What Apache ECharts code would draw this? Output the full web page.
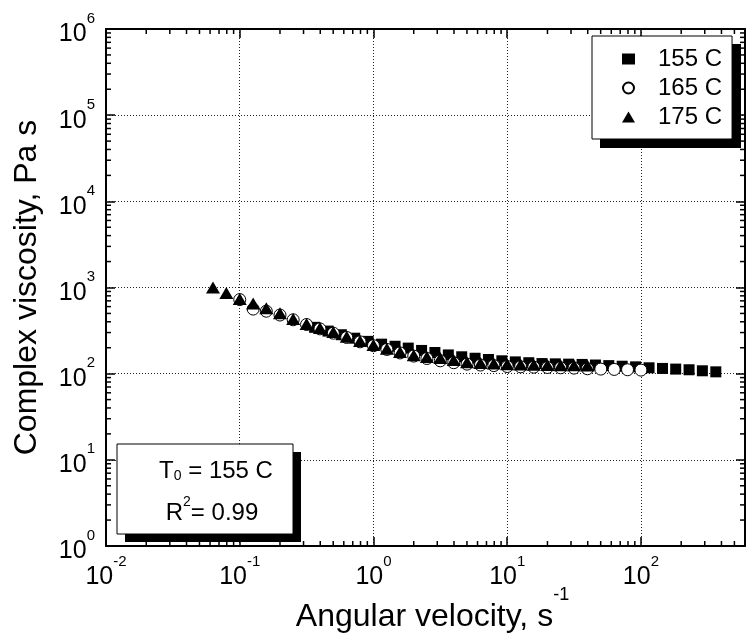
<!DOCTYPE html>
<html><head><meta charset="utf-8">
<script src="https://cdn.jsdelivr.net/npm/echarts@6/dist/echarts.min.js"></script>
<style>html,body{margin:0;padding:0;background:#fff}#c{width:752px;height:634px}</style>
</head><body><div id="c"></div>
<script>
// ---- data ----
const seriesNames = ['155 C', '165 C', '175 C'];
const w155 = [0.363,0.457,0.575,0.724,0.912,1.15,1.45,1.82,2.29,2.88,3.63,4.57,5.75,7.24,9.12,11.5,14.5,18.2,22.9,28.8,36.3,45.7,57.5,72.4,91.2,115,145,182,229,288,363];
const eta155 = [345,312,283,258,237,220,208,198,186,176,165,157,151,146,141,137,134,131,130,129,128,126,124,122,120,117,115,113,111,108,105];
const w165 = [0.1,0.126,0.158,0.2,0.251,0.316,0.398,0.501,0.631,0.794,1,1.26,1.58,2,2.51,3.16,3.98,5.01,6.31,7.94,10,12.6,15.8,20,25.1,31.6,39.8,50.1,63.1,79.4,100];
const eta165 = [724,562,531,479,422,372,331,295,263,234,211,191,174,160,150,141,134,129,126,124,121,120,119,118,117,116,114,113,112,111,110];
const w175 = [0.0631,0.0794,0.1,0.126,0.158,0.2,0.251,0.316,0.398,0.501,0.631,0.794,1,1.26,1.58,2,2.51,3.16,3.98,5.01,6.31,7.94,10,12.6,15.8,20,25.1,31.6,39.8];
const eta175 = [1000,861,733,653,575,501,431,376,339,305,269,240,215,195,178,164,156,152,144,136,133,131,129,128,127,126,125,125,124];
const xMin = 0.01, xMax = 600, yMin = 1, yMax = 1e6;
const xDecades = [-2,-1,0,1,2];
const yDecades = [0,1,2,3,4,5,6];
const xTitle = 'Angular velocity, s';
const xTitleSup = '-1';
const yTitle = 'Complex viscosity, Pa s';
const noteT0 = '155 C';
const noteR2 = '0.99';

// minor tick positions (2..9 within each decade)
const xMinor = [], yMinor = [];
xDecades.forEach(e => { for (let m = 2; m <= 9; m++) { const v = m * Math.pow(10, e); if (v < xMax) xMinor.push(v); } });
yDecades.slice(0, -1).forEach(e => { for (let m = 2; m <= 9; m++) yMinor.push(m * Math.pow(10, e)); });

const FONT = "'Liberation Sans', Arial, Helvetica, sans-serif";
const zip = (a, b) => a.map((v, i) => [v, b[i]]);

function powLabel(v) {
  const l = Math.log10(v), e = Math.round(l);
  if (Math.abs(l - e) > 1e-6) return '';
  return '{b|10}{s|' + e + '}';
}
const labelRich = {
  b: { fontSize: 25, fontFamily: FONT, color: '#000', lineHeight: 36, verticalAlign: 'bottom' },
  s: { fontSize: 15, fontFamily: FONT, color: '#000', lineHeight: 13, verticalAlign: 'top' }
};

function minorTicks(kind, values) {
  return {
    type: 'custom', silent: true, clip: false, z: 6, xAxisIndex: 0, yAxisIndex: 0,
    data: values.map(v => kind === 'x' ? [v, yMin] : [xMin, v]),
    renderItem(params, api) {
      const st = { stroke: '#000', lineWidth: 1.5 };
      if (kind === 'x') {
        const v = api.value(0);
        const b = api.coord([v, yMin]), t = api.coord([v, yMax]);
        return { type: 'group', children: [
          { type: 'line', shape: { x1: b[0], y1: b[1], x2: b[0], y2: b[1] - 5 }, style: st },
          { type: 'line', shape: { x1: t[0], y1: t[1], x2: t[0], y2: t[1] + 5 }, style: st }
        ]};
      } else {
        const v = api.value(1);
        const l = api.coord([xMin, v]), r = api.coord([xMax, v]);
        return { type: 'group', children: [
          { type: 'line', shape: { x1: l[0], y1: l[1], x2: l[0] + 5, y2: l[1] }, style: st },
          { type: 'line', shape: { x1: r[0], y1: r[1], x2: r[0] - 5, y2: r[1] }, style: st }
        ]};
      }
    }
  };
}

const axisLineStyle = { color: '#000', width: 2 };
const majorTick = { show: true, inside: true, length: 9, lineStyle: { color: '#000', width: 1.5 } };
const gridLine = { show: true, lineStyle: { color: '#222', width: 1, type: [1, 2] } };

const chart = echarts.init(document.getElementById('c'), null, { renderer: 'canvas' });
chart.setOption({
  animation: false,
  backgroundColor: '#fff',
  grid: { left: 106, right: 7, top: 29, bottom: 88, containLabel: false, outerBoundsMode: 'none' },
  xAxis: [
    { type: 'log', logBase: 10, min: xMin, max: xMax, interval: 1, position: 'bottom',
      axisLine: { show: true, lineStyle: axisLineStyle }, axisTick: majorTick,
      splitLine: gridLine, minorTick: { show: false },
      axisLabel: { margin: 8, formatter: powLabel, rich: labelRich },
      name: '{a|' + xTitle + '}{s|' + xTitleSup + '}', nameLocation: 'middle', nameGap: 40,
      nameMoveOverlap: false,
      nameTextStyle: { padding: [0, 0, 0, 14], rich: {
        a: { fontSize: 32, fontFamily: FONT, color: '#000' },
        s: { fontSize: 18, fontFamily: FONT, color: '#000', padding: [0, 0, 44, 0] } } } },
    { type: 'log', logBase: 10, min: xMin, max: xMax, interval: 1, position: 'top',
      axisLine: { show: true, lineStyle: axisLineStyle }, axisTick: majorTick,
      splitLine: { show: false }, axisLabel: { show: false } }
  ],
  yAxis: [
    { type: 'log', logBase: 10, min: yMin, max: yMax, interval: 1, position: 'left',
      axisLine: { show: true, lineStyle: axisLineStyle }, axisTick: majorTick,
      splitLine: gridLine,
      axisLabel: { margin: 11, formatter: powLabel, rich: labelRich },
      name: yTitle, nameLocation: 'middle', nameRotate: 90, nameGap: 63, nameMoveOverlap: false,
      nameTextStyle: { fontSize: 32, fontFamily: FONT, color: '#000' } },
    { type: 'log', logBase: 10, min: yMin, max: yMax, interval: 1, position: 'right',
      axisLine: { show: true, lineStyle: axisLineStyle }, axisTick: majorTick,
      splitLine: { show: false }, axisLabel: { show: false } }
  ],
  legend: {
    data: seriesNames, orient: 'vertical', left: 592, top: 36,
    padding: [11, 10, 10, 30], itemGap: 5, itemWidth: 13, itemHeight: 11,
    backgroundColor: '#fff', borderColor: '#000', borderWidth: 1, borderRadius: 0,
    selectedMode: false, z: 10,
    textStyle: { fontSize: 24, fontFamily: FONT, color: '#000', lineHeight: 24, padding: [0, 0, 0, 18] }
  },
  graphic: [
    { type: 'rect', z: 9, silent: true, shape: { x: 600, y: 44, width: 141, height: 104 }, style: { fill: '#000' } },
    { type: 'rect', z: 9, silent: true, shape: { x: 125, y: 452, width: 176, height: 90 }, style: { fill: '#000' } },
    { type: 'rect', z: 10, silent: true, shape: { x: 117, y: 444, width: 176, height: 90 }, style: { fill: '#fff', stroke: '#000', lineWidth: 1 } },
    { type: 'text', z: 11, silent: true, x: 216, y: 453.5, style: {
        text: '{a|T}{sub|0}{a| = ' + noteT0 + '}', align: 'center', verticalAlign: 'top',
        rich: { a: { fontSize: 24, fontFamily: FONT, fill: '#000', lineHeight: 30, verticalAlign: 'bottom' },
                sub: { fontSize: 14, fontFamily: FONT, fill: '#000', lineHeight: 8, verticalAlign: 'bottom' } } } },
    { type: 'text', z: 11, silent: true, x: 212, y: 495.5, style: {
        text: '{a|R}{sup|2}{a|= ' + noteR2 + '}', align: 'center', verticalAlign: 'top',
        rich: { a: { fontSize: 24, fontFamily: FONT, fill: '#000', lineHeight: 30, verticalAlign: 'bottom' },
                sup: { fontSize: 14, fontFamily: FONT, fill: '#000', lineHeight: 19, verticalAlign: 'top' } } } }
  ],
  series: [
    { name: seriesNames[0], type: 'scatter', symbol: 'rect', symbolSize: 11, symbolKeepAspect: true, z: 3,
      itemStyle: { color: '#000', opacity: 1 }, data: zip(w155, eta155) },
    { name: seriesNames[1], type: 'scatter', symbol: 'circle', symbolSize: 12, z: 3,
      itemStyle: { color: '#fff', borderColor: '#000', borderWidth: 1, opacity: 1 }, data: zip(w165, eta165) },
    { name: seriesNames[2], type: 'scatter', symbol: 'triangle', symbolSize: [14, 12], z: 3,
      itemStyle: { color: '#000', opacity: 1 }, data: zip(w175, eta175) },
    minorTicks('x', xMinor),
    minorTicks('y', yMinor)
  ]
});
</script>
</body></html>
